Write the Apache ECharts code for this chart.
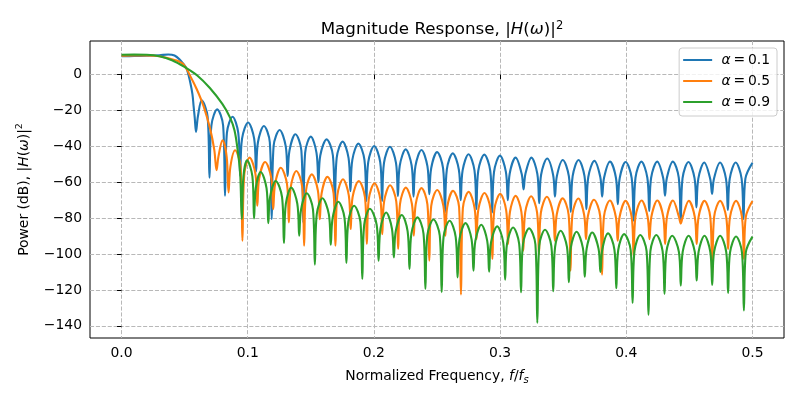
<!DOCTYPE html>
<html>
<head>
<meta charset="utf-8">
<script src="https://cdn.jsdelivr.net/npm/echarts@6.0.0/dist/echarts.min.js"></script>
<style>
html,body{margin:0;padding:0;background:#fff;}
#chart{width:800px;height:400px;}
</style>
</head>
<body>
<div id="chart"></div>
<script>
// ---- data: [normalized frequency, power dB] ----
const seriesNames = ['α = 0.1', 'α = 0.5', 'α = 0.9'];
const xTicks = [0, 0.1, 0.2, 0.3, 0.4, 0.5];
const yTicks = [-140, -120, -100, -80, -60, -40, -20, 0];

const blueData = [
[0,10.2],[0.01,10.3],[0.02,10.5],[0.03,10.8],[0.037,11.2],[0.042,10.6],[0.0466,8],[0.0495,5.5],[0.0519,2.8],[0.0545,-4.6],[0.0562,-11],[0.0571,-17.6],[0.058,-24],
[0.059,-32],[0.0605,-23.4],[0.0635,-14.4],[0.0682,-23.4],
[0.0697,-57.5],[0.0712,-28.4],[0.0758,-19.4],[0.0805,-28.4],
[0.082,-67.5],[0.0835,-32.5],[0.088,-23.5],[0.0925,-32.5],
[0.094,-56.5],[0.0955,-35.7],[0.1003,-26.7],[0.1051,-35.7],
[0.1066,-54],[0.1081,-37.7],[0.1128,-28.7],[0.1175,-37.7],
[0.119,-80.5],[0.1205,-39.9],[0.1253,-30.9],[0.1301,-39.9],
[0.1316,-56.5],[0.1331,-42.3],[0.1378,-33.3],[0.1425,-42.3],
[0.144,-82.5],[0.1455,-43.6],[0.150,-34.6],[0.1545,-43.6],
[0.156,-60],[0.1575,-45.1],[0.1625,-36.1],[0.1675,-45.1],
[0.169,-75],[0.1705,-46.4],[0.1752,-37.4],[0.1799,-46.4],
[0.1814,-65],[0.1829,-47.5],[0.1877,-38.5],[0.1925,-47.5],
[0.194,-70.5],[0.1955,-48.8],[0.2002,-39.8],[0.205,-48.8],
[0.2065,-70.4],[0.208,-49.2],[0.2127,-40.2],[0.2175,-49.2],
[0.219,-67.6],[0.2205,-50.7],[0.2252,-41.7],[0.2299,-50.7],
[0.2314,-68],[0.2329,-51],[0.2377,-42],[0.2424,-51],
[0.2439,-66.7],[0.2454,-52.2],[0.2501,-43.2],[0.2548,-52.2],
[0.2563,-76.9],[0.2578,-52.9],[0.2625,-43.9],[0.2673,-52.9],
[0.2688,-70],[0.2703,-53.4],[0.275,-44.4],[0.2797,-53.4],
[0.2812,-75],[0.2827,-53.6],[0.2875,-44.6],[0.2922,-53.6],
[0.2937,-76.9],[0.2952,-54.2],[0.2999,-45.2],[0.3046,-54.2],
[0.3061,-70],[0.3076,-55.3],[0.3123,-46.3],[0.3171,-55.3],
[0.3186,-64],[0.3201,-55.3],[0.3248,-46.3],[0.3295,-55.3],
[0.331,-71.7],[0.3325,-55.8],[0.3373,-46.8],[0.342,-55.8],
[0.3435,-68],[0.345,-56.6],[0.3497,-47.6],[0.3545,-56.6],
[0.356,-76.5],[0.3575,-56.6],[0.3622,-47.6],[0.3669,-56.6],
[0.3684,-75],[0.3699,-57.1],[0.3747,-48.1],[0.3794,-57.1],
[0.3809,-68],[0.3824,-57.5],[0.3871,-48.5],[0.3918,-57.5],
[0.3933,-72.2],[0.3948,-57.7],[0.3995,-48.7],[0.4043,-57.7],
[0.4058,-81.5],[0.4073,-57.5],[0.412,-48.5],[0.4167,-57.5],
[0.4182,-76],[0.4197,-57.5],[0.4245,-48.5],[0.4292,-57.5],
[0.4307,-67.5],[0.4322,-57.5],[0.4369,-48.5],[0.4416,-57.5],
[0.4431,-82.5],[0.4446,-57.7],[0.4493,-48.7],[0.4541,-57.7],
[0.4556,-74],[0.4571,-58],[0.4618,-49],[0.4665,-58],
[0.468,-66.5],[0.4695,-58],[0.4743,-49],[0.479,-58],
[0.4805,-75.5],[0.482,-58],[0.4867,-49],[0.4914,-58],
[0.4929,-80.5],[0.4944,-58],[0.5,-49.2]
];

const orangeData = [
[0,10.5],[0.01,10.6],[0.02,10.6],[0.03,10.2],[0.0426,8],[0.0492,5.6],[0.0545,-0.9],[0.0597,-8.3],[0.065,-17.6],[0.0703,-30.5],[0.0735,-42],
[0.0753,-53.3],[0.0768,-45.7],[0.08,-36.7],[0.0833,-45.7],
[0.0848,-65.7],[0.0863,-51.2],[0.09,-42.2],[0.0943,-51.2],
[0.0958,-92.6],[0.0973,-55.3],[0.1015,-46.3],[0.1061,-55.3],
[0.1076,-73.1],[0.1091,-57.7],[0.1138,-48.7],[0.1187,-57.7],
[0.1202,-75],[0.1217,-60.9],[0.1262,-51.9],[0.1311,-60.9],
[0.1326,-82.4],[0.1341,-62.7],[0.1385,-53.7],[0.1432,-62.7],
[0.1447,-95.4],[0.1462,-64.6],[0.1508,-55.6],[0.1556,-64.6],
[0.1571,-80.6],[0.1586,-66],[0.1632,-57],[0.168,-66],
[0.1695,-95.4],[0.171,-67.3],[0.1755,-58.3],[0.1801,-67.3],
[0.1816,-86.1],[0.1831,-68.3],[0.188,-59.3],[0.1929,-68.3],
[0.1944,-94.4],[0.1959,-69.6],[0.2005,-60.6],[0.2051,-69.6],
[0.2066,-88.9],[0.2081,-70.7],[0.2128,-61.7],[0.2177,-70.7],
[0.2192,-97.2],[0.2207,-72],[0.2253,-63],[0.2301,-72],
[0.2316,-89.8],[0.2331,-72.3],[0.2377,-63.3],[0.2424,-72.3],
[0.2439,-103.7],[0.2454,-73.3],[0.2502,-64.3],[0.2551,-73.3],
[0.2566,-89.8],[0.2581,-73.8],[0.2627,-64.8],[0.2675,-73.8],
[0.269,-122.6],[0.2705,-74.4],[0.2751,-65.4],[0.2798,-74.4],
[0.2813,-91.7],[0.2828,-75],[0.2876,-66],[0.2924,-75],
[0.2939,-102.8],[0.2954,-75.5],[0.3001,-66.5],[0.3048,-75.5],
[0.3063,-94.4],[0.3078,-76.6],[0.3123,-67.6],[0.3169,-76.6],
[0.3184,-98.1],[0.3199,-76.8],[0.3246,-67.8],[0.3293,-76.8],
[0.3308,-100],[0.3323,-77.1],[0.3371,-68.1],[0.3419,-77.1],
[0.3434,-92.6],[0.3449,-78],[0.3496,-69],[0.3543,-78],
[0.3558,-109.3],[0.3573,-78.1],[0.362,-69.1],[0.3666,-78.1],
[0.3681,-91.7],[0.3696,-78.8],[0.3744,-69.8],[0.3793,-78.8],
[0.3808,-111.5],[0.3823,-79.2],[0.387,-70.2],[0.3917,-79.2],
[0.3932,-92.6],[0.3947,-79.4],[0.3995,-70.4],[0.4043,-79.4],
[0.4058,-101],[0.4073,-79.2],[0.4121,-70.2],[0.4169,-79.2],
[0.4184,-91.7],[0.4199,-79.2],[0.4246,-70.2],[0.4293,-79.2],
[0.4308,-94.4],[0.4323,-79.2],[0.437,-70.2],[0.4417,-79.2],
[0.4432,-83],[0.4447,-79.4],[0.4495,-70.4],[0.4543,-79.4],
[0.4558,-94.4],[0.4573,-79.4],[0.462,-70.4],[0.4666,-79.4],
[0.4681,-112],[0.4696,-79.4],[0.4744,-70.4],[0.4792,-79.4],
[0.4807,-97.2],[0.4822,-79.4],[0.487,-70.4],[0.4917,-79.4],
[0.4932,-102.8],[0.4947,-79.5],[0.5,-70.5]
];

const greenData = [
[0,11],[0.01,11.1],[0.02,11],[0.03,10.2],[0.04,8],[0.05,4.2],[0.06,-0.5],[0.07,-7.5],[0.08,-16.5],[0.086,-24],[0.0895,-31],[0.092,-42],[0.094,-55],
[0.0953,-80.5],[0.0966,-56.8],[0.0995,-47.8],[0.1037,-56.8],
[0.105,-80.2],[0.1064,-63.3],[0.1103,-54.3],[0.1149,-63.3],
[0.1163,-82.8],[0.1177,-68.3],[0.1222,-59.3],[0.1272,-68.3],
[0.1287,-93.9],[0.1302,-72],[0.1345,-63],[0.1393,-72],
[0.1408,-89.8],[0.1423,-75.1],[0.1468,-66.1],[0.1517,-75.1],
[0.1532,-105.9],[0.1547,-77.9],[0.1592,-68.9],[0.1643,-77.9],
[0.1658,-94.8],[0.1673,-79.9],[0.1718,-70.9],[0.1767,-79.9],
[0.1782,-105],[0.1797,-82.1],[0.1843,-73.1],[0.1893,-82.1],
[0.1908,-113.9],[0.1923,-83.8],[0.1968,-74.8],[0.2022,-83.8],
[0.2037,-103.7],[0.2052,-85.9],[0.2097,-76.9],[0.2143,-85.9],
[0.2158,-101.9],[0.2173,-87.3],[0.2221,-78.3],[0.2267,-87.3],
[0.2282,-108.3],[0.2297,-88.6],[0.2345,-79.6],[0.2393,-88.6],
[0.2408,-119.4],[0.2423,-89.8],[0.2472,-80.8],[0.2522,-89.8],
[0.2537,-121.3],[0.2552,-90.5],[0.26,-81.5],[0.2648,-90.5],
[0.2663,-113],[0.2678,-91.8],[0.2726,-82.8],[0.2774,-91.8],
[0.2789,-109.3],[0.2804,-92.7],[0.2851,-83.7],[0.2898,-92.7],
[0.2913,-109.8],[0.2928,-93.6],[0.2977,-84.6],[0.3025,-93.6],
[0.304,-114.3],[0.3055,-94.2],[0.3103,-85.2],[0.3151,-94.2],
[0.3166,-121.3],[0.3181,-94.7],[0.323,-85.7],[0.328,-94.7],
[0.3295,-138.3],[0.331,-95.5],[0.3356,-86.5],[0.3406,-95.5],
[0.3421,-120.7],[0.3436,-96],[0.348,-87],[0.353,-96],
[0.3545,-115.7],[0.356,-96.6],[0.3606,-87.6],[0.3656,-96.6],
[0.3671,-112.6],[0.3686,-97],[0.373,-88],[0.378,-97],
[0.3795,-110],[0.381,-97.5],[0.3856,-88.5],[0.3906,-97.5],
[0.3921,-119.1],[0.3936,-97.9],[0.3983,-88.9],[0.4035,-97.9],
[0.405,-127.2],[0.4065,-98.4],[0.4111,-89.4],[0.4161,-98.4],
[0.4176,-133.9],[0.4191,-98.4],[0.4238,-89.4],[0.4288,-98.4],
[0.4303,-122.2],[0.4318,-98.8],[0.4364,-89.8],[0.4417,-98.8],
[0.4432,-117.6],[0.4447,-98.8],[0.4494,-89.8],[0.4543,-98.8],
[0.4558,-114.8],[0.4573,-98.8],[0.462,-89.8],[0.4666,-98.8],
[0.4681,-117.2],[0.4696,-98.8],[0.4744,-89.8],[0.4792,-98.8],
[0.4807,-121.7],[0.4822,-99.2],[0.487,-90.2],[0.4917,-99.2],
[0.4932,-131.5],[0.4947,-99.3],[0.5,-90.3]
];

const colors = ['#1f77b4', '#ff7f0e', '#2ca02c'];
const FONT = 'DejaVu Sans';

const chart = echarts.init(document.getElementById('chart'), null, {renderer: 'canvas'});

function txt(size, extra) {
  return Object.assign({fontFamily: FONT, fontSize: size, color: '#000', fontWeight: 'normal'}, extra || {});
}

const option = {
  animation: false,
  backgroundColor: '#ffffff',
  title: {
    text: 'Magnitude Response, |{i|H}({i|ω})|{sup|2}',
    left: 437,
    top: 15,
    textAlign: 'center',
    textStyle: txt(16.7, {lineHeight: 20, rich: {
      i: txt(16.7, {fontStyle: 'italic', lineHeight: 20}),
      sup: txt(11.5, {lineHeight: 13, verticalAlign: 'top'})
    }})
  },
  legend: {
    show: true,
    orient: 'vertical',
    right: 23,
    top: 48,
    padding: [5, 7, 7, 4],
    icon: 'rect',
    itemWidth: 29,
    itemHeight: 2,
    itemGap: 7,
    backgroundColor: 'rgba(255,255,255,0.8)',
    borderColor: '#cccccc',
    borderWidth: 1,
    borderRadius: 3,
    data: seriesNames,
    formatter: function (name) {
      return ' {i|α}' + name.slice(1).replace(/ /g, '\u2009');
    },
    textStyle: txt(13.9, {lineHeight: 14, rich: {
      i: txt(13.9, {fontStyle: 'italic', lineHeight: 14})
    }})
  },
  grid: {left: 90, right: 16, top: 41, bottom: 62, show: true, borderColor: '#000', borderWidth: 1, backgroundColor: 'transparent'},
  xAxis: {
    type: 'value',
    min: -0.025,
    max: 0.525,
    axisLine: {show: false},
    axisTick: {show: true, length: 4.5, customValues: xTicks, lineStyle: {color: '#000', width: 1}},
    axisLabel: {customValues: xTicks, margin: 8, formatter: function (v) { return v.toFixed(1); }, fontFamily: FONT, fontSize: 13.9, color: '#000'},
    splitLine: {show: true, lineStyle: {color: '#b8b8b8', width: 1, type: [4.1, 1.8]}},
    name: 'Normalized Frequency, {i|f}/{i|f}{s|s}',
    nameLocation: 'middle',
    nameGap: 29,
    nameTextStyle: txt(13.9, {lineHeight: 18, rich: {
      i: txt(13.9, {fontStyle: 'italic', lineHeight: 18}),
      s: txt(10, {fontStyle: 'italic', lineHeight: 10, verticalAlign: 'bottom'})
    }})
  },
  yAxis: {
    type: 'value',
    min: -146.8,
    max: 18.7,
    axisLine: {show: false},
    axisTick: {show: true, length: 4.5, customValues: yTicks, lineStyle: {color: '#000', width: 1}},
    axisLabel: {customValues: yTicks, margin: 8, formatter: function (v) { return String(v).replace('-', '\u2212'); }, fontFamily: FONT, fontSize: 13.9, color: '#000'},
    splitLine: {show: true, lineStyle: {color: '#b8b8b8', width: 1, type: [4.1, 1.8]}},
    name: 'Power (dB), |{i|H}({i|ω})|{sup|2}',
    nameLocation: 'middle',
    nameRotate: 90,
    nameGap: 56,
    nameTextStyle: txt(13.9, {lineHeight: 18, rich: {
      i: txt(13.9, {fontStyle: 'italic', lineHeight: 18}),
      sup: txt(9.5, {lineHeight: 11, verticalAlign: 'top'})
    }})
  },
  series: [blueData, orangeData, greenData].map(function (d, k) {
    return {
      type: 'line',
      name: seriesNames[k],
      data: d,
      symbol: 'none',
      showSymbol: false,
      smooth: 0.35,
      clip: true,
      lineStyle: {width: 2.1, color: colors[k]},
      itemStyle: {color: colors[k]},
      emphasis: {disabled: true}
    };
  })
};
chart.setOption(option);
</script>
</body>
</html>
